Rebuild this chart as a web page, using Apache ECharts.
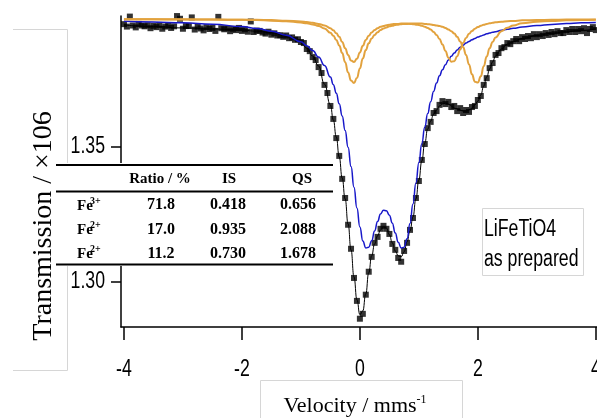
<!DOCTYPE html>
<html><head><meta charset="utf-8">
<script src="https://cdn.jsdelivr.net/npm/echarts@6/dist/echarts.min.js"></script>
<style>html,body{margin:0;padding:0;background:#fff}#c{width:597px;height:418px}</style>
</head><body><div id="c"></div>
<script>
// Measured spectrum: velocity (mm/s) and transmission (x10^6 counts)
const velocity = [
-4,-3.95,-3.9,-3.85,-3.8,-3.75,-3.7,-3.65,-3.6,-3.55,
-3.5,-3.45,-3.4,-3.35,-3.3,-3.25,-3.2,-3.15,-3.1,-3.05,
-3,-2.95,-2.9,-2.85,-2.8,-2.75,-2.7,-2.65,-2.6,-2.55,
-2.5,-2.45,-2.4,-2.35,-2.3,-2.25,-2.2,-2.15,-2.1,-2.05,
-2,-1.95,-1.9,-1.85,-1.8,-1.75,-1.7,-1.65,-1.6,-1.55,
-1.5,-1.45,-1.4,-1.35,-1.3,-1.25,-1.2,-1.15,-1.1,-1.05,
-1,-0.95,-0.9,-0.85,-0.8,-0.75,-0.7,-0.65,-0.6,-0.55,
-0.5,-0.45,-0.4,-0.35,-0.3,-0.25,-0.2,-0.15,-0.1,-0.05,
0,0.05,0.1,0.15,0.2,0.25,0.3,0.35,0.4,0.45,
0.5,0.55,0.6,0.65,0.7,0.75,0.8,0.85,0.9,0.95,
1,1.05,1.1,1.15,1.2,1.25,1.3,1.35,1.4,1.45,
1.5,1.55,1.6,1.65,1.7,1.75,1.8,1.85,1.9,1.95,
2,2.05,2.1,2.15,2.2,2.25,2.3,2.35,2.4,2.45,
2.5,2.55,2.6,2.65,2.7,2.75,2.8,2.85,2.9,2.95,
3,3.05,3.1,3.15,3.2,3.25,3.3,3.35,3.4,3.45,
3.5,3.55,3.6,3.65,3.7,3.75,3.8,3.85,3.9,3.95,
4];
const counts = [
1.3955,1.3946,1.3983,1.3950,1.3943,1.3956,1.3950,1.3947,1.3951,1.3940,
1.3949,1.3944,1.3952,1.3938,1.3946,1.3950,1.3941,1.3947,1.3985,1.3975,
1.3938,1.3948,1.3948,1.3980,1.3935,1.3946,1.3939,1.3932,1.3944,1.3937,
1.3941,1.3930,1.3982,1.3940,1.3936,1.3940,1.3929,1.3938,1.3933,1.3941,
1.3930,1.3936,1.3927,1.3965,1.3926,1.3931,1.3930,1.3924,1.3920,1.3927,
1.3916,1.3921,1.3913,1.3914,1.3908,1.3913,1.3903,1.3906,1.3897,1.3899,
1.3889,1.3885,1.3863,1.3855,1.3833,1.3822,1.3796,1.3774,1.3730,1.3700,
1.3652,1.3604,1.3533,1.3467,1.3382,1.3311,1.3212,1.3123,1.3015,1.2930,
1.2864,1.2882,1.2953,1.3038,1.3093,1.3145,1.3167,1.3197,1.3208,1.3197,
1.3178,1.3141,1.3119,1.3089,1.3075,1.3115,1.3145,1.3193,1.3237,1.3311,
1.3374,1.3452,1.3511,1.3570,1.3593,1.3626,1.3633,1.3656,1.3670,1.3659,
1.3667,1.3648,1.3652,1.3633,1.3644,1.3626,1.3637,1.3630,1.3648,1.3652,
1.3674,1.3689,1.3730,1.3755,1.3792,1.3811,1.3841,1.3848,1.3866,1.3870,
1.3885,1.3881,1.3892,1.3900,1.3892,1.3907,1.3900,1.3911,1.3903,1.3918,
1.3907,1.3918,1.3911,1.3922,1.3915,1.3926,1.3918,1.3929,1.3922,1.3922,
1.3933,1.3926,1.3937,1.3926,1.3937,1.3929,1.3940,1.3922,1.3937,1.3944,
1.3933];

// Fitted curves, sampled at fitVelocity
const fitVelocity = [-4,-3.5,-3,-2.5,-2,-1.75,-1.5,-1.25,-1,-0.9,-0.8,-0.7,-0.6,
-0.5,-0.45,-0.4,-0.35,-0.3,-0.25,-0.2,-0.15,-0.1,-0.05,0,0.05,0.1,0.15,0.2,0.25,0.3,0.35,0.4,0.45,
0.5,0.55,0.6,0.65,0.7,0.75,0.8,0.85,0.9,0.95,1,1.05,1.1,1.15,1.2,1.25,1.3,1.35,1.4,1.45,
1.5,1.55,1.6,1.65,1.7,1.75,1.8,1.85,1.9,1.95,2,2.05,2.1,2.15,2.2,2.25,2.3,
2.4,2.5,2.6,2.75,3,3.25,3.5,3.75,4];
const fitTotal = [1.3952,1.3946,1.3941,1.3937,1.3933,1.3929,1.3923,1.3912,1.3890,1.3866,1.3837,1.3800,1.3733,
1.3656,1.3600,1.3537,1.3463,1.3385,1.3308,1.3215,1.3119,1.3019,1.2934,1.2879,1.2893,1.2956,1.3034,1.3097,1.3141,1.3171,1.3193,1.3204,1.3200,
1.3175,1.3145,1.3115,1.3097,1.3093,1.3112,1.3149,1.3189,1.3241,1.3308,1.3378,1.3448,1.3515,1.3567,1.3596,1.3622,1.3637,1.3652,1.3659,1.3663,
1.3659,1.3652,1.3644,1.3641,1.3637,1.3633,1.3633,1.3637,1.3644,1.3656,1.3670,1.3693,1.3726,1.3759,1.3789,1.3815,1.3837,
1.3863,1.3881,1.3890,1.3902,1.3913,1.3921,1.3927,1.3932,1.3937];
const fitFe3 = [1.3966,1.3963,1.3960,1.3955,1.3946,1.3939,1.3929,1.3914,1.3890,1.3875,1.3857,1.3833,1.3802,
1.3759,1.3731,1.3699,1.3660,1.3615,1.3561,1.3499,1.3428,1.3351,1.3274,1.3204,1.3152,1.3126,1.3129,1.3153,1.3189,1.3224,1.3252,1.3266,1.3264,
1.3247,1.3218,1.3181,1.3147,1.3126,1.3129,1.3160,1.3217,1.3289,1.3367,1.3443,1.3512,1.3573,1.3624,1.3668,1.3706,1.3737,1.3764,1.3786,1.3805,
1.3822,1.3836,1.3848,1.3859,1.3869,1.3877,1.3885,1.3891,1.3897,1.3902,1.3907,1.3911,1.3915,1.3919,1.3922,1.3925,1.3927,
1.3932,1.3936,1.3940,1.3944,1.3950,1.3954,1.3957,1.3960,1.3961];
const fitFe2a = [1.3973,1.3973,1.3972,1.3972,1.3971,1.3970,1.3968,1.3966,1.3961,1.3958,1.3954,1.3948,1.3939,
1.3923,1.3912,1.3896,1.3876,1.3848,1.3814,1.3776,1.3746,1.3737,1.3756,1.3791,1.3828,1.3859,1.3884,1.3902,1.3915,1.3925,1.3933,1.3939,1.3943,
1.3947,1.3949,1.3952,1.3953,1.3955,1.3956,1.3956,1.3957,1.3957,1.3957,1.3957,1.3957,1.3956,1.3955,1.3954,1.3952,1.3950,1.3948,1.3945,1.3941,
1.3935,1.3929,1.3920,1.3908,1.3891,1.3870,1.3841,1.3806,1.3769,1.3742,1.3739,1.3762,1.3799,1.3835,1.3866,1.3889,1.3906,
1.3929,1.3942,1.3950,1.3958,1.3964,1.3967,1.3969,1.3970,1.3971];
const fitFe2b = [1.3973,1.3973,1.3973,1.3972,1.3971,1.3971,1.3970,1.3968,1.3965,1.3963,1.3960,1.3956,1.3950,
1.3940,1.3932,1.3921,1.3908,1.3889,1.3866,1.3841,1.3820,1.3815,1.3827,1.3850,1.3875,1.3896,1.3912,1.3924,1.3933,1.3940,1.3945,1.3948,1.3951,
1.3953,1.3955,1.3956,1.3956,1.3957,1.3957,1.3957,1.3956,1.3955,1.3953,1.3952,1.3949,1.3945,1.3941,1.3935,1.3926,1.3915,1.3900,1.3880,1.3856,
1.3831,1.3816,1.3818,1.3836,1.3861,1.3885,1.3904,1.3919,1.3930,1.3938,1.3944,1.3949,1.3953,1.3956,1.3958,1.3960,1.3962,
1.3964,1.3966,1.3967,1.3969,1.3970,1.3971,1.3972,1.3972,1.3972];

const xTicks = [-4, -2, 0, 2, 4];
const yTicks = [1.30, 1.35];
const tableHeader = ['Ratio / %', 'IS', 'QS'];
const tableSites = ['3+', '2+', '2+'];
const tableRatio = ['71.8', '17.0', '11.2'];
const tableIS = ['0.418', '0.935', '0.730'];
const tableQS = ['0.656', '2.088', '1.678'];
const sampleLines = ['LiFeTiO4', 'as prepared'];

const SANS = '"Liberation Sans",Arial,sans-serif';
const SERIF = '"Liberation Serif","Times New Roman",serif';
const NARROW_SCALE = 0.77;

const pair = (xs, ys) => xs.map((x, i) => [x, ys[i]]);

function txt(x, y, text, font, align, extra) {
  return Object.assign({
    type: 'text', x: x, y: y, z: 101,
    style: { text: text, font: font, fill: '#000', align: align || 'center', textAlign: align || 'center',
             verticalAlign: 'middle', textVerticalAlign: 'middle' }
  }, extra || {});
}

const rowY = [205, 229.5, 253.5];
const tableGraphics = [
  { type: 'rect', z: 100, shape: { x: 55, y: 163, width: 279, height: 103 }, style: { fill: '#fff' } },
  { type: 'line', z: 101, shape: { x1: 56, y1: 165, x2: 333, y2: 165 }, style: { stroke: '#000', lineWidth: 2 } },
  { type: 'line', z: 101, shape: { x1: 56, y1: 191.5, x2: 333, y2: 191.5 }, style: { stroke: '#000', lineWidth: 2 } },
  { type: 'line', z: 101, shape: { x1: 56, y1: 264.5, x2: 333, y2: 264.5 }, style: { stroke: '#000', lineWidth: 2 } },
  txt(160, 179, tableHeader[0], 'bold 15px ' + SERIF),
  txt(229, 179, tableHeader[1], 'bold 15px ' + SERIF),
  txt(302, 179, tableHeader[2], 'bold 15px ' + SERIF)
];
for (let i = 0; i < 3; i++) {
  tableGraphics.push(txt(77, rowY[i] + 1, 'Fe', 'bold 15px ' + SERIF, 'left'));
  tableGraphics.push(txt(90, rowY[i] - 4, tableSites[i], 'bold 10px ' + SERIF, 'left'));
  tableGraphics.push(txt(161, rowY[i], tableRatio[i], 'bold 16px ' + SERIF));
  tableGraphics.push(txt(228, rowY[i], tableIS[i], 'bold 16px ' + SERIF));
  tableGraphics.push(txt(298, rowY[i], tableQS[i], 'bold 16px ' + SERIF));
}

const baseGraphics = [
  { type: 'polyline', z: 0, shape: { points: [[13, 29.5], [67.5, 29.5], [67.5, 370.5], [13, 370.5]] },
    style: { stroke: '#d6d6d6', lineWidth: 1, fill: null } },
  { type: 'polyline', z: 0, shape: { points: [[260.5, 418], [260.5, 380.5], [462.5, 380.5], [462.5, 418]] },
    style: { stroke: '#d6d6d6', lineWidth: 1, fill: null } },
  { type: 'rect', z: 50, shape: { x: 482.5, y: 208.5, width: 101, height: 67 },
    style: { stroke: '#d6d6d6', lineWidth: 1, fill: '#fff' } },
  txt(484, 230, sampleLines[0], '23px ' + SANS, 'left', { z: 51, scaleX: NARROW_SCALE }),
  txt(484, 260, sampleLines[1], '23px ' + SANS, 'left', { z: 51, scaleX: NARROW_SCALE }),
  {
    type: 'text', x: 44, y: 226, rotation: Math.PI / 2, z: 60,
    style: { text: 'Transmission / ×106', font: '28px ' + SERIF, fill: '#000',
             align: 'center', textAlign: 'center', verticalAlign: 'middle', textVerticalAlign: 'middle' }
  },
  {
    type: 'text', x: 355, y: 406, z: 60,
    style: { text: '{a|Velocity / mms}{s|-1}', fill: '#000',
             align: 'center', textAlign: 'center', verticalAlign: 'middle', textVerticalAlign: 'middle',
             rich: { a: { font: '22px ' + SERIF, fill: '#000', lineHeight: 24 },
                     s: { font: '12px ' + SERIF, fill: '#000', verticalAlign: 'top', lineHeight: 12 } } }
  }
].concat(tableGraphics);

const chart = echarts.init(document.getElementById('c'), null, { renderer: 'canvas' });
const yMin = 1.28333, yMax = 1.39852;
chart.setOption({
  animation: false,
  backgroundColor: '#fff',
  grid: { left: 121, top: 16, width: 476, height: 311, containLabel: false },
  xAxis: {
    type: 'value', min: -4.05, max: 4.02,
    splitLine: { show: false },
    axisLine: { onZero: false, lineStyle: { color: '#000', width: 1.5 } },
    axisTick: { customValues: xTicks, length: 13, lineStyle: { color: '#000', width: 1.5 } },
    axisLabel: { show: false }
  },
  yAxis: {
    type: 'value', min: yMin, max: yMax,
    splitLine: { show: false },
    axisLine: { show: true, onZero: false, lineStyle: { color: '#000', width: 1.5 } },
    axisTick: { show: true, customValues: yTicks, length: 10, lineStyle: { color: '#000', width: 1.5 } },
    axisLabel: { show: false }
  },
  series: [
    { type: 'scatter', data: pair(velocity, counts), symbol: 'rect', symbolSize: 6,
      itemStyle: { color: '#000' }, z: 2, silent: true },
    { type: 'line', data: pair(fitVelocity, fitTotal), showSymbol: false, smooth: true, smoothMonotone: 'x',
      lineStyle: { color: '#000', width: 1 }, z: 3, silent: true },
    { type: 'line', data: pair(fitVelocity, fitFe3), showSymbol: false, smooth: true, smoothMonotone: 'x',
      lineStyle: { color: '#1717c9', width: 1.5 }, z: 4, silent: true },
    { type: 'line', data: pair(fitVelocity, fitFe2a), showSymbol: false, smooth: true, smoothMonotone: 'x',
      lineStyle: { color: '#e2a23e', width: 2 }, z: 5, silent: true },
    { type: 'line', data: pair(fitVelocity, fitFe2b), showSymbol: false, smooth: true, smoothMonotone: 'x',
      lineStyle: { color: '#e2a23e', width: 2 }, z: 5, silent: true }
  ],
  graphic: baseGraphics
});

// Tick labels placed through the axes' own scales (narrow face, as in the original)
const axisBottom = chart.convertToPixel({ yAxisIndex: 0 }, yMin);
const axisLeft = chart.convertToPixel({ xAxisIndex: 0 }, -4.05);
const tickLabelGraphics = [];
xTicks.forEach(v => {
  tickLabelGraphics.push(txt(chart.convertToPixel({ xAxisIndex: 0 }, v), axisBottom + 43, String(v),
    '23px ' + SANS, 'center', { z: 60, scaleX: NARROW_SCALE }));
});
yTicks.forEach(v => {
  tickLabelGraphics.push(txt(axisLeft - 16, chart.convertToPixel({ yAxisIndex: 0 }, v), v.toFixed(2),
    '23px ' + SANS, 'right', { z: 60, scaleX: NARROW_SCALE }));
});
chart.setOption({ graphic: baseGraphics.concat(tickLabelGraphics) });
</script>
</body></html>
